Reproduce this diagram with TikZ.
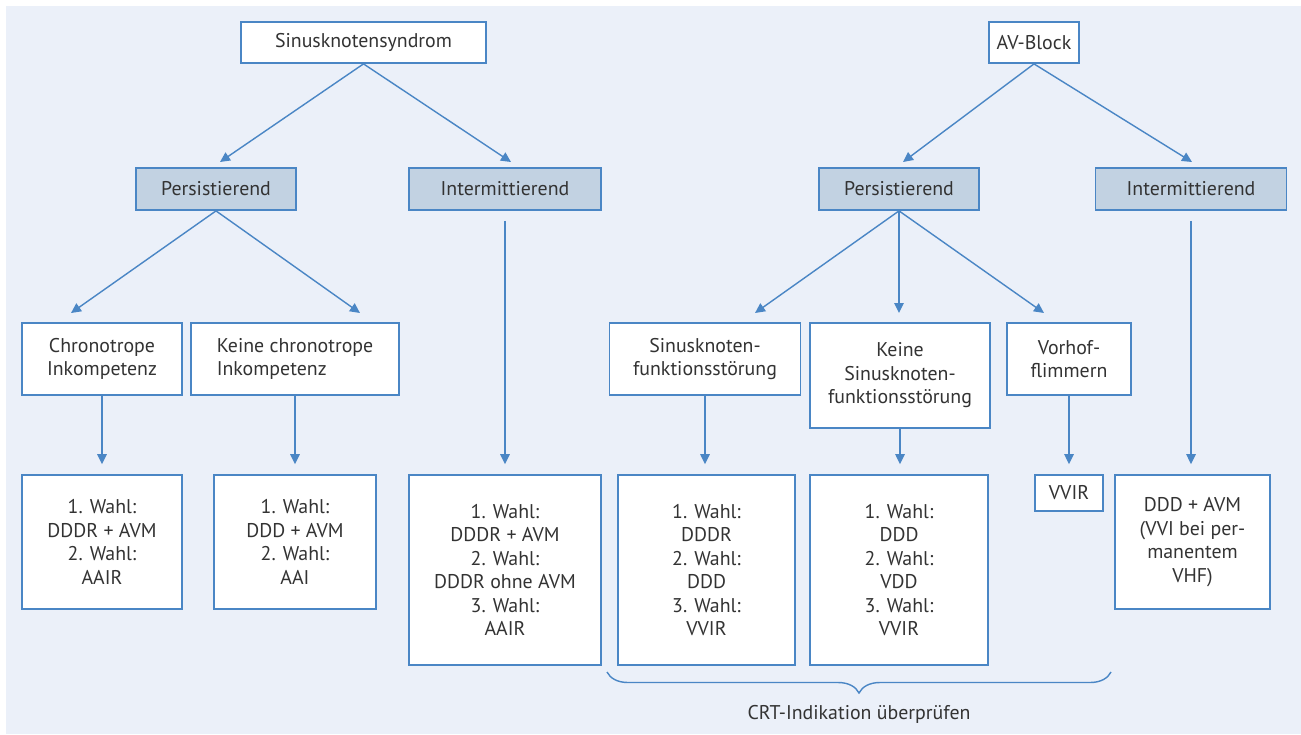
\documentclass[tikz,border=0pt]{standalone}
\usepackage{fontspec}
\setmainfont{PT Sans}
\usepackage{tikz}
\usetikzlibrary{arrows.meta}
\usetikzlibrary{decorations.pathreplacing}
\definecolor{bgcol}{HTML}{EBF0F9}
\definecolor{blueline}{HTML}{4A86C5}
\definecolor{headfill}{HTML}{C2D2E2}
\definecolor{txt}{HTML}{333333}

\begin{document}
\begin{tikzpicture}[x=0.2mm, y=-0.2mm,
    box/.style={draw=blueline, line width=1pt, fill=white, text=txt, align=center,
        inner sep=0pt, font=\fontsize{11.3}{13.4}\selectfont},
    headbox/.style={box, fill=headfill},
    arr/.style={draw=blueline, line width=0.8pt, -{Triangle[length=0.2cm, width=0.19cm]}}]
    \useasboundingbox (0,0) rectangle (1301,734);
    \fill[bgcol] (6,6) rectangle (1301,734);

    % top level
    \node[box, minimum width=4.9cm, minimum height=0.82cm] (sinus) at (363.5,42.5) {Sinusknotensyndrom};
    \node[box, minimum width=1.8cm, minimum height=0.82cm] (av) at (1034,42.5) {AV-Block};

    % second level
    \node[headbox, minimum width=3.2cm, minimum height=0.84cm] (persL) at (216,189) {Persistierend};
    \node[headbox, minimum width=3.84cm, minimum height=0.84cm] (interL) at (505,189) {Intermittierend};
    \node[headbox, minimum width=3.2cm, minimum height=0.84cm] (persR) at (899,189) {Persistierend};
    \node[headbox, minimum width=3.82cm, minimum height=0.84cm] (interR) at (1191,189) {Intermittierend};

    % third level
    \node[box, minimum width=3.2cm, minimum height=1.44cm] (chrono) at (102,359) {Chronotrope\\Inkompetenz};
    \node[box, align=left, minimum width=4.16cm, minimum height=1.44cm] (nochrono) at (295,359) {Keine chronotrope\\Inkompetenz};
    \node[box, minimum width=3.82cm, minimum height=1.44cm] (snfs) at (705,359) {Sinusknoten-\\funktionsstörung};
    \node[box, minimum width=3.6cm, minimum height=2.1cm] (nosnfs) at (900,375.5) {Keine\\Sinusknoten-\\funktionsstörung};
    \node[box, minimum width=2.48cm, minimum height=1.44cm] (vhf) at (1069,359) {Vorhof-\\flimmern};

    % choices
    \node[box, minimum width=3.2cm, minimum height=2.68cm] (wahlA) at (102,542) {1. Wahl:\\DDDR + AVM\\2. Wahl:\\AAIR};
    \node[box, minimum width=3.24cm, minimum height=2.68cm] (wahlB) at (295,542) {1. Wahl:\\DDD + AVM\\2. Wahl:\\AAI};
    \node[box, minimum width=3.84cm, minimum height=3.8cm] (wahlC) at (505,570) {1. Wahl:\\DDDR + AVM\\2. Wahl:\\DDDR ohne AVM\\3. Wahl:\\AAIR};
    \node[box, minimum width=3.54cm, minimum height=3.8cm] (wahlD) at (706.5,570) {1. Wahl:\\DDDR\\2. Wahl:\\DDD\\3. Wahl:\\VVIR};
    \node[box, minimum width=3.56cm, minimum height=3.8cm] (wahlE) at (899,570) {1. Wahl:\\DDD\\2. Wahl:\\VDD\\3. Wahl:\\VVIR};
    \node[box, minimum width=1.36cm, minimum height=0.72cm] (vvir) at (1069,493) {VVIR};
    \node[box, minimum width=3.1cm, minimum height=2.68cm] (wahlF) at (1192.5,542) {DDD + AVM\\(VVI bei per-\\manentem\\VHF)};

    % arrow tips of the slanted arrows
    \coordinate (tPersL) at (220,162);
    \coordinate (tInterL) at (511,162);
    \coordinate (tPersR) at (903,162);
    \coordinate (tInterR) at (1192,162);
    \coordinate (tChrono) at (71,313);
    \coordinate (tNoChrono) at (360,313);
    \coordinate (tSnfs) at (755,313);
    \coordinate (tNoSnfs) at (899,313);
    \coordinate (tVhf) at (1044,313);

    \draw[arr] (sinus.south) -- (tPersL);
    \draw[arr] (sinus.south) -- (tInterL);
    \draw[arr] (av.south) -- (tPersR);
    \draw[arr] (av.south) -- (tInterR);
    \draw[arr] (persL.south) -- (tChrono);
    \draw[arr] (persL.south) -- (tNoChrono);
    \draw[arr] (persR.south) -- (tSnfs);
    \draw[arr] (persR.south) -- (tNoSnfs);
    \draw[arr] (persR.south) -- (tVhf);

    \draw[arr, shorten >=10*0.2mm] (chrono) -- (wahlA);
    \draw[arr, shorten >=10*0.2mm] (nochrono) -- (wahlB);
    \draw[arr, shorten <=10*0.2mm, shorten >=10*0.2mm] (interL) -- (wahlC);
    \draw[arr, shorten >=10*0.2mm] (snfs.south) -- (snfs.south |- wahlD.north);
    \draw[arr, shorten >=10*0.2mm] (nosnfs) -- (vvir.north -| nosnfs.south);
    \draw[arr, shorten >=10*0.2mm] (vhf) -- (vvir);
    \draw[arr, shorten <=10*0.2mm, shorten >=10*0.2mm] (interR.south) -- (interR.south |- wahlF.north);

    % brace
    \draw[blueline, line width=0.8pt, decorate, decoration={brace, mirror, amplitude=0.42cm}]
        (607,672) -- (1111,672);
    \node[text=txt, font=\fontsize{11.3}{13.4}\selectfont] (crt) at (859,714) {CRT-Indikation überprüfen};
\end{tikzpicture}
\end{document}
